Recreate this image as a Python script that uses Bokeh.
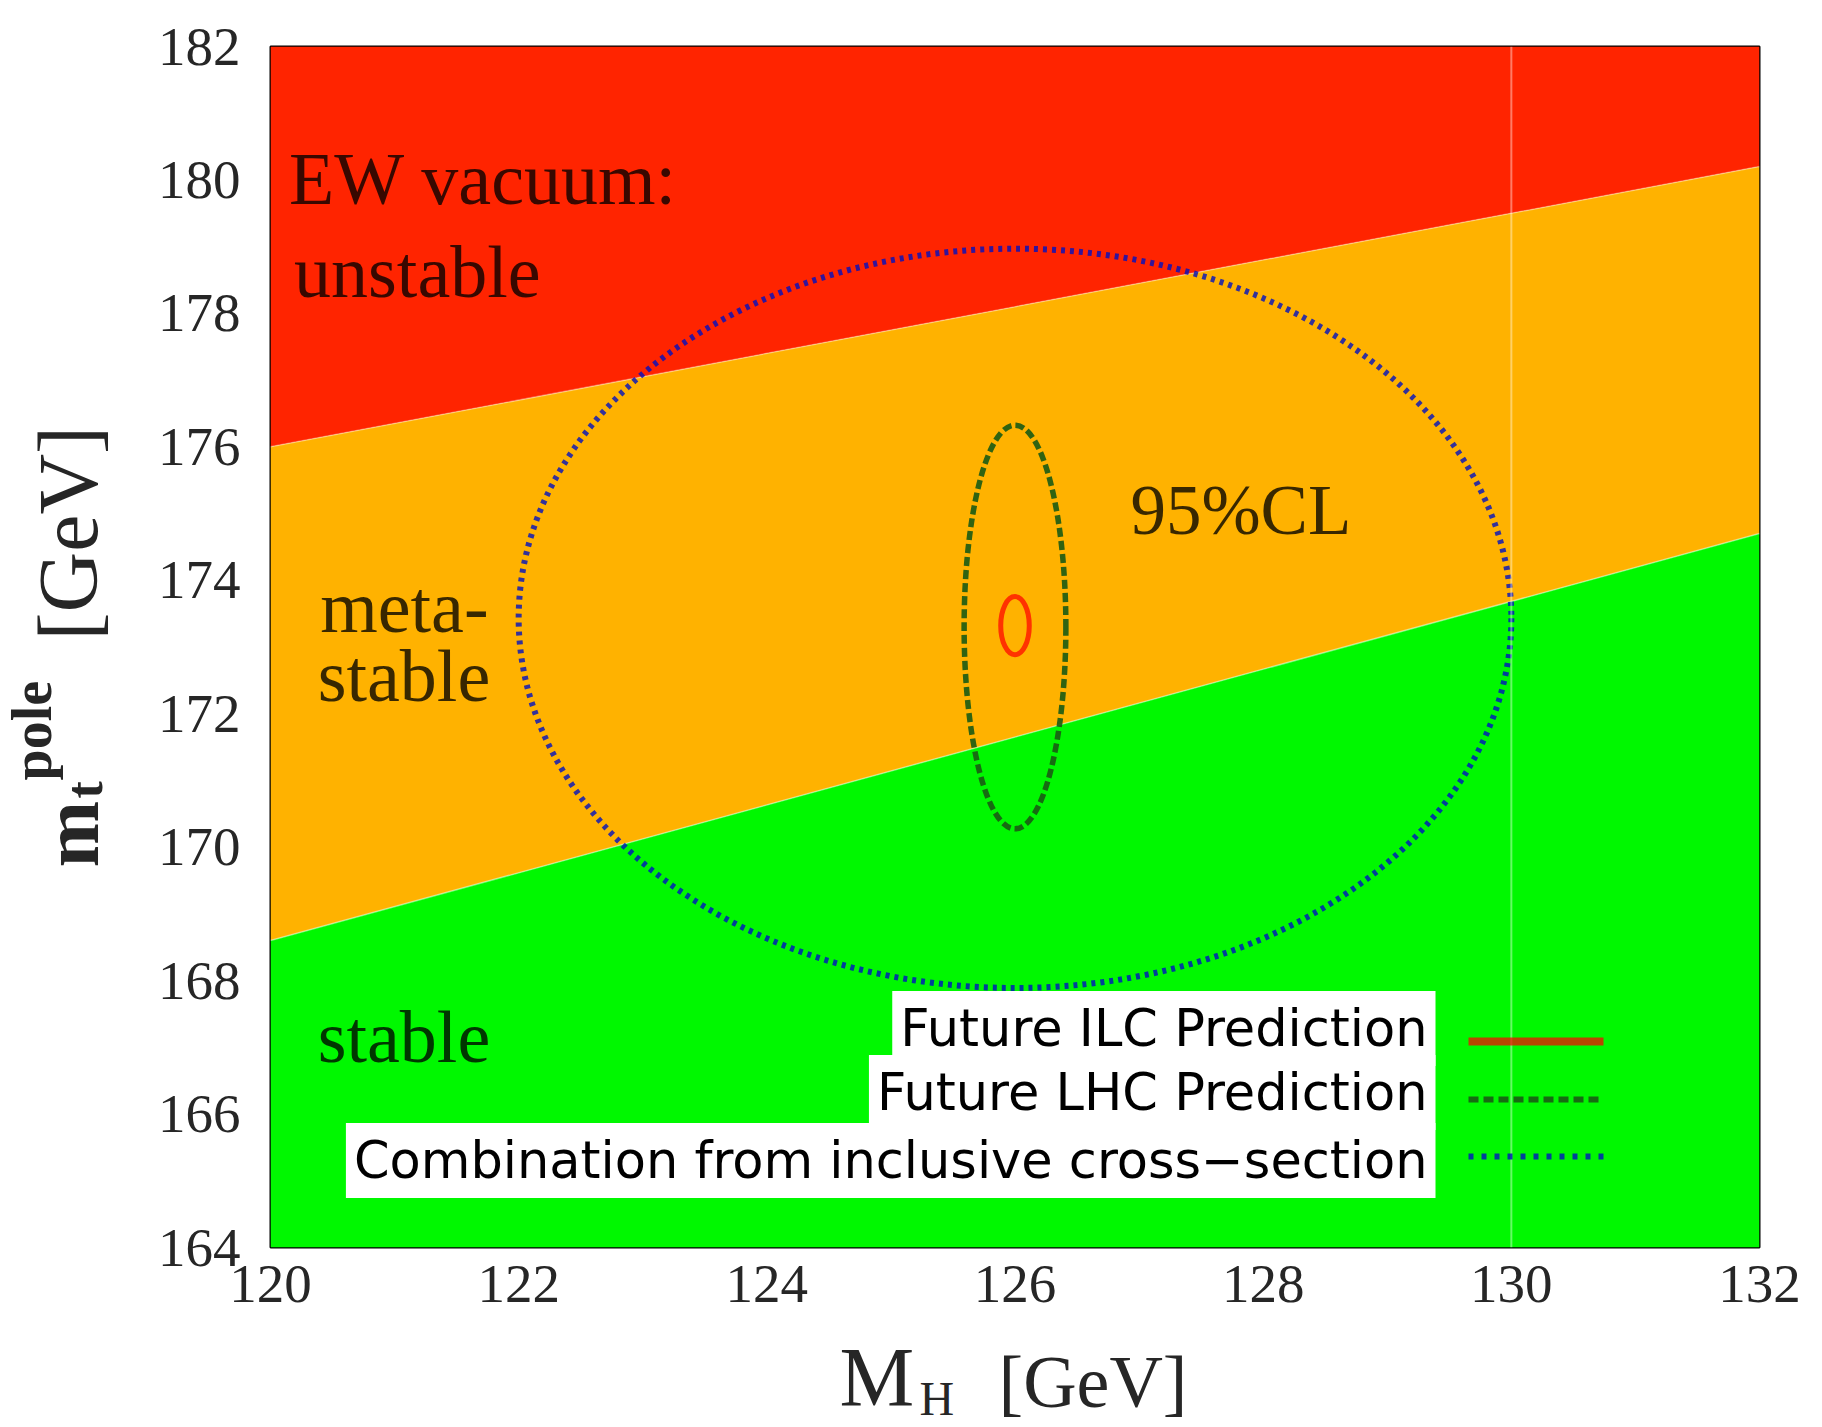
from bokeh.plotting import figure
from bokeh.layouts import row, column
from bokeh.models import Label, Span, Arrow, FixedTicker, Range1d
from bokeh.embed import file_html
from bokeh.resources import INLINE

# ---------------- data ----------------
mh_limits = [120.0, 132.0]
mt_limits = [164.0, 182.0]
mh_edges = [120.0, 132.0]
unstable_boundary = [176.0, 180.2]   # above this line: unstable
stable_boundary = [168.6, 174.7]     # below this line: stable
top_edge = [182.0, 182.0]
bottom_edge = [164.0, 164.0]
faint_line_mh = 130.0

x_ticks = [120, 122, 124, 126, 128, 130, 132]
y_ticks = [164, 166, 168, 170, 172, 174, 176, 178, 180, 182]

series_names = ["Future ILC Prediction", "Future LHC Prediction",
                "Combination from inclusive cross\u2212section"]
ellipse_mh = [126.0, 126.0, 126.0]
ellipse_mt = [173.32, 173.30, 173.43]
ellipse_width = [0.23, 0.82, 8.0]
ellipse_height = [0.87, 6.05, 11.08]

region_texts = ["EW vacuum:", "unstable", "meta-", "stable", "stable", "95%CL"]
region_mh = [120.15, 120.19, 120.40, 120.38, 120.38, 126.93]
region_mt = [180.02, 178.62, 173.60, 172.56, 167.16, 175.06]

# ---------------- styles ----------------
c_red, c_orange, c_green = "#FF2400", "#FFB200", "#00F800"
series_colors = ["#FF0000", "#1A5A14", "#0010C0"]
series_alpha = [0.72, 0.9, 0.8]
series_width = [5, 5.5, 6]
series_dash = ["solid", "9 4", "4 5"]
legend_width = [8, 6, 6]
legend_dash = ["solid", "10 5", "5 8"]
serif = "Liberation Serif"
ink = "#262626"

W_left, W_main = 118, 1696
H_main, H_xlab = 1328, 97
H_total = H_main + H_xlab
B_left, B_right = 152, 55

p = figure(width=W_main, height=H_main, output_backend="svg", toolbar_location=None,
           x_range=Range1d(*mh_limits), y_range=Range1d(*mt_limits),
           min_border_left=B_left, min_border_right=B_right, min_border_top=46,
           min_border_bottom=81)
p.background_fill_color = "white"
p.border_fill_color = "white"
p.outline_line_color = "black"
p.outline_line_width = 2
p.grid.visible = False

# stability regions
p.varea(x=mh_edges, y1=unstable_boundary, y2=top_edge, fill_color=c_red)
p.varea(x=mh_edges, y1=stable_boundary, y2=unstable_boundary, fill_color=c_orange)
p.varea(x=mh_edges, y1=bottom_edge, y2=stable_boundary, fill_color=c_green)
p.line(mh_edges, unstable_boundary, line_color="white", line_alpha=0.35, line_width=1.5)
p.line(mh_edges, stable_boundary, line_color="white", line_alpha=0.45, line_width=1.5)
p.add_layout(Span(location=faint_line_mh, dimension="height", line_color="white",
                  line_alpha=0.4, line_width=2))

# ellipses
for i in range(3):
    p.ellipse(x=[ellipse_mh[i]], y=[ellipse_mt[i]], width=[ellipse_width[i]],
              height=[ellipse_height[i]], fill_color=None,
              line_color=series_colors[i], line_alpha=series_alpha[i],
              line_width=series_width[i], line_dash=series_dash[i])

# region texts
for t, x, y in zip(region_texts, region_mh, region_mt):
    p.add_layout(Label(x=x, y=y, text=t, text_font=serif,
                       text_font_size="74px" if t != "95%CL" else "71px",
                       text_color="black", text_alpha=0.78,
                       text_align="left", text_baseline="alphabetic"))

# legend (text boxes on the left, samples on the right)
legend_text_y = [219, 155, 87]
legend_line_y = [206, 148, 91]
for i in range(3):
    p.add_layout(Label(x=1165, y=legend_text_y[i], x_units="screen", y_units="screen",
                       text=series_names[i], text_font="DejaVu Sans",
                       text_font_size="51px", text_color="black",
                       text_align="right", text_baseline="alphabetic",
                       background_fill_color="white", padding=8))
    p.add_layout(Arrow(end=None, x_start=1198, y_start=legend_line_y[i],
                       x_end=1333, y_end=legend_line_y[i],
                       start_units="screen", end_units="screen",
                       line_color=series_colors[i], line_alpha=series_alpha[i],
                       line_width=legend_width[i], line_dash=legend_dash[i]))

# axes
p.xaxis.ticker = FixedTicker(ticks=x_ticks)
p.yaxis.ticker = FixedTicker(ticks=y_ticks)
for ax in (p.xaxis[0], p.yaxis[0]):
    ax.axis_line_color = None
    ax.major_tick_line_color = None
    ax.minor_tick_line_color = None
    ax.major_tick_out = 0
    ax.major_label_text_font = serif
    ax.major_label_text_font_size = "55px"
    ax.major_label_text_color = ink
p.xaxis.major_label_standoff = 18
p.yaxis.major_label_standoff = 30


def text_panel(w, h, left=0, right=0):
    f = figure(width=w, height=h, output_backend="svg", toolbar_location=None,
               x_range=Range1d(0, w - left - right), y_range=Range1d(0, h),
               min_border=0, min_border_left=left, min_border_right=right,
               x_axis_type=None, y_axis_type=None)
    f.outline_line_color = None
    f.background_fill_color = "white"
    f.border_fill_color = "white"
    return f


# x axis title: M_H [GeV]
xl = text_panel(W_main, H_xlab, B_left, B_right)
for txt, x, y, size in [("M", 569, 48, "84px"), ("H", 649, 27, "48px"),
                        ("[GeV]", 728, 44, "74px")]:
    xl.add_layout(Label(x=x, y=y, text=txt, text_font=serif, text_font_size=size,
                        text_color=ink, text_align="left", text_baseline="alphabetic"))

# y axis title: m_t^pole [GeV] (rotated)
yl = text_panel(W_left, H_total)
for txt, x, y, size, style in [("m", 70, 558, "80px", "bold"),
                               ("t", 84, 627, "52px", "bold"),
                               ("pole", 31, 645, "56px", "bold"),
                               ("[GeV]", 68, 785, "84px", "normal")]:
    yl.add_layout(Label(x=x, y=y, text=txt, angle=90, angle_units="deg",
                        text_font=serif, text_font_size=size, text_font_style=style,
                        text_color=ink, text_align="left", text_baseline="alphabetic"))

layout = row(yl, column(p, xl))
open("out.html", "w").write(file_html(layout, INLINE))
